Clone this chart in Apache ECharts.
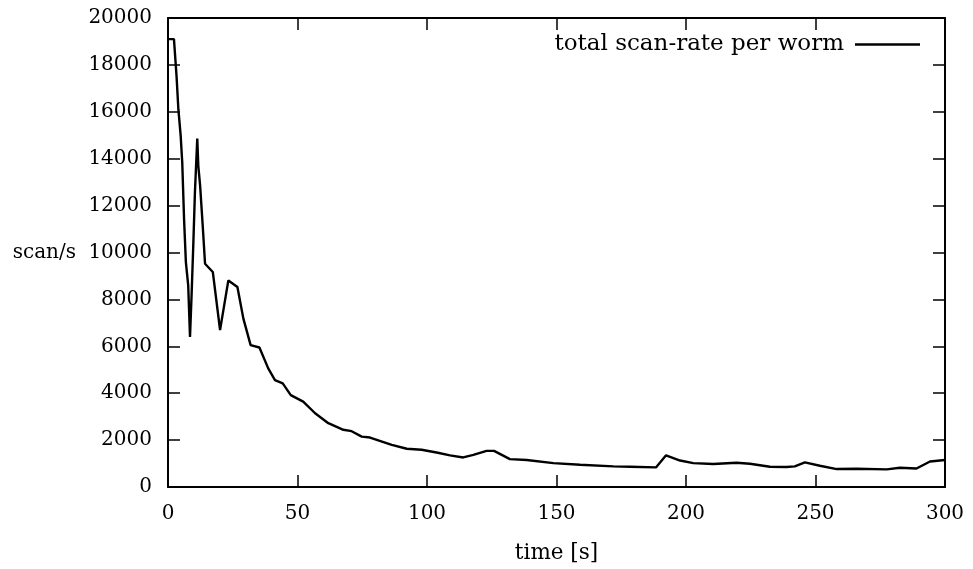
<!DOCTYPE html>
<html>
<head>
<meta charset="utf-8">
<script src="https://cdn.jsdelivr.net/npm/echarts@6/dist/echarts.min.js"></script>
<style>
  html, body { margin: 0; padding: 0; background: #fff; }
  #chart { width: 973px; height: 569px; }
</style>
</head>
<body>
<div id="chart"></div>
<script>
// time in seconds, scan-rate in scans per second
const times = [0, 2.3, 3.3, 4, 4.9, 5.5, 6.2, 6.9, 7.8, 8.5, 9.1, 9.8, 10.4, 11.3, 11.7,
  12.4, 13.4, 14.3, 17.3, 20.1, 23.3, 26.8, 29.1, 31.9, 35.3, 38.7, 41.3, 44.3, 47.4,
  52.2, 56.8, 61.9, 67.7, 70.9, 74.8, 78, 86.4, 92.2, 97.9, 103.7, 108.9, 114, 117.9,
  123, 125.9, 132, 138.5, 148.8, 159.1, 172, 178.4, 188.4, 192.3, 197.7, 202.8, 210.5,
  219.5, 224.7, 232.4, 238.8, 242, 245.9, 251.7, 258.2, 265.9, 277.5, 282.6, 289, 294.2, 300]
const scanRate = [19100, 19100, 17520, 16110, 14970, 13840, 11430, 9590, 8600, 6400, 8170,
  10440, 12570, 14860, 13700, 12850, 11150, 9520, 9170, 6690, 8810, 8530, 7180, 6050, 5950,
  5060, 4560, 4420, 3920, 3640, 3145, 2720, 2440, 2380, 2150, 2110, 1800, 1630, 1590, 1470,
  1350, 1260, 1370, 1540, 1540, 1190, 1150, 1020, 950, 880, 865, 835, 1350, 1130, 1020, 980,
  1035, 990, 865, 850, 880, 1050, 905, 765, 780, 750, 820, 790, 1090, 1150]
const xTicks = { min: 0, max: 300, interval: 50 }
const yTicks = { min: 0, max: 20000, interval: 2000 }
const seriesName = 'total scan-rate per worm'

const font = 'DejaVu Serif'
const chart = echarts.init(document.getElementById('chart'))

const frameAxis = {
  axisLine: { show: true, onZero: false, lineStyle: { color: '#000', width: 2 } },
  axisTick: { show: true, inside: true, length: 12, lineStyle: { color: '#000', width: 1.5 } },
  splitLine: { show: false }
}

chart.setOption({
  animation: false,
  textStyle: { fontFamily: font, color: '#000' },
  grid: { left: 168, right: 28, top: 18, bottom: 80 },
  legend: {
    data: [{ name: seriesName, icon: 'rect' }],
    right: 48,
    top: 28,
    align: 'right',
    itemWidth: 65,
    itemHeight: 2.5,
    itemStyle: { color: '#000' },
    textStyle: { fontFamily: font, fontSize: 23, color: '#000', padding: [0, 6, 0, 0] }
  },
  xAxis: [
    Object.assign({
      type: 'value', position: 'bottom',
      min: xTicks.min, max: xTicks.max, interval: xTicks.interval,
      name: 'time [s]', nameLocation: 'middle', nameGap: 55,
      nameTextStyle: { fontFamily: font, fontSize: 21.5, color: '#000' },
      axisLabel: { fontFamily: font, fontSize: 20, color: '#000', margin: 17 }
    }, frameAxis),
    Object.assign({
      type: 'value', position: 'top',
      min: xTicks.min, max: xTicks.max, interval: xTicks.interval,
      axisLabel: { show: false }
    }, frameAxis)
  ],
  yAxis: [
    Object.assign({
      type: 'value', position: 'left',
      min: yTicks.min, max: yTicks.max, interval: yTicks.interval,
      name: 'scan/s', nameLocation: 'middle', nameRotate: 0, nameGap: 92,
      nameTextStyle: { fontFamily: font, fontSize: 20, color: '#000', align: 'right' },
      axisLabel: { fontFamily: font, fontSize: 20, color: '#000', margin: 16, formatter: v => String(v) }
    }, frameAxis),
    Object.assign({
      type: 'value', position: 'right',
      min: yTicks.min, max: yTicks.max, interval: yTicks.interval,
      axisLabel: { show: false }
    }, frameAxis)
  ],
  series: [{
    name: seriesName,
    type: 'line',
    xAxisIndex: 0,
    yAxisIndex: 0,
    symbol: 'none',
    smooth: false,
    color: '#000',
    lineStyle: { color: '#000', width: 2.4 },
    data: times.map((t, i) => [t, scanRate[i]])
  }]
})
</script>
</body>
</html>
